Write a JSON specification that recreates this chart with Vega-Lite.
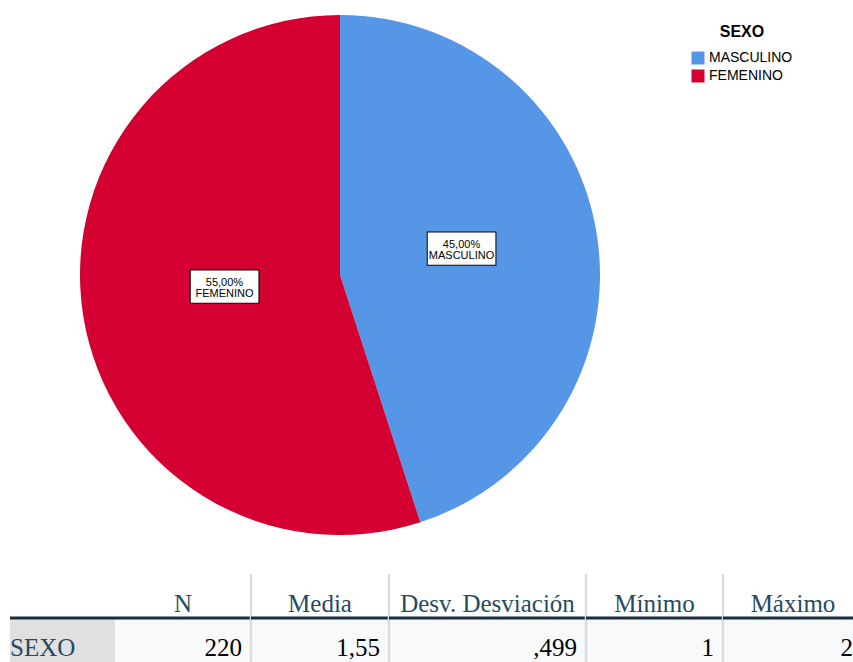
{
  "$schema": "https://vega.github.io/schema/vega-lite/v6.json",
  "padding": {"left": 8, "top": 0, "right": 0, "bottom": 0},
  "background": "white",
  "spacing": 24,
  "bounds": "flush",
  "datasets": {
    "pie": [
      {"sexo": "MASCULINO", "porcentaje": 45, "orden": 1, "etiqueta": ["45,00%", "MASCULINO"]},
      {"sexo": "FEMENINO", "porcentaje": 55, "orden": 2, "etiqueta": ["55,00%", "FEMENINO"]}
    ],
    "stats": [
      {"col": "fila", "header": "", "value": "SEXO"},
      {"col": "N", "header": "N", "value": "220"},
      {"col": "Media", "header": "Media", "value": "1,55"},
      {"col": "Desv", "header": "Desv. Desviación", "value": ",499"},
      {"col": "Min", "header": "Mínimo", "value": "1"},
      {"col": "Max", "header": "Máximo", "value": "2"}
    ]
  },
  "resolve": {"scale": {"color": "independent"}, "legend": {"color": "independent"}},
  "vconcat": [
    {
      "width": 660,
      "height": 550,
      "data": {"name": "pie"},
      "encoding": {
        "theta": {"field": "porcentaje", "type": "quantitative", "stack": true},
        "order": {"field": "orden", "type": "quantitative"}
      },
      "layer": [
        {
          "mark": {"type": "arc", "outerRadius": 260, "stroke": null},
          "encoding": {
            "color": {
              "field": "sexo",
              "type": "nominal",
              "scale": {"domain": ["MASCULINO", "FEMENINO"], "range": ["#5596e6", "#d40032"]},
              "legend": {
                "title": "SEXO",
                "orient": "right",
                "offset": -3,
                "padding": 24,
                "titleFont": "Liberation Sans",
                "titleFontSize": 16,
                "titleFontWeight": "bold",
                "titleColor": "#000000",
                "titleAnchor": "middle",
                "titlePadding": 11,
                "labelFont": "Liberation Sans",
                "labelFontSize": 14,
                "labelColor": "#000000",
                "symbolType": "square",
                "symbolSize": 169,
                "symbolStrokeWidth": 0,
                "symbolOpacity": 1,
                "labelOffset": 4,
                "rowPadding": 4
              }
            }
          }
        },
        {
          "mark": {"type": "text", "radius": 120, "dx": 3, "dy": -11, "text": "▬", "font": "DejaVu Sans", "fontSize": 90, "fill": "white", "stroke": "black", "strokeWidth": 1, "align": "center", "baseline": "middle"},
          "encoding": {"detail": {"field": "sexo"}}
        },
        {
          "mark": {"type": "text", "radius": 120, "dx": 3, "dy": -11, "font": "Liberation Sans", "fontSize": 11, "lineHeight": 11, "color": "black", "align": "center", "baseline": "middle"},
          "encoding": {"detail": {"field": "sexo"}, "text": {"field": "etiqueta"}}
        }
      ]
    },
    {
      "spacing": 0,
      "bounds": "flush",
      "hconcat": [
        {
          "width": 105, "height": 88,
          "data": {"name": "stats"},
          "transform": [{"filter": "datum.col == 'fila'"}],
          "layer": [
            {"mark": {"type": "rect", "color": "#e0e0e0"}, "encoding": {"y": {"datum": "v", "type": "nominal", "scale": {"type": "band", "domain": ["h", "v"], "paddingInner": 0, "paddingOuter": 0}, "axis": null}}},
            {"mark": {"type": "rule", "color": "#1c2e3c", "strokeWidth": 3}, "encoding": {"y": {"datum": "v", "type": "nominal", "bandPosition": 0, "axis": null}}},
            {"mark": {"type": "text", "font": "Liberation Serif", "fontSize": 25, "color": "#264a60", "align": "left", "baseline": "alphabetic", "dx": 0}, "encoding": {"text": {"field": "value"}, "x": {"value": 0}, "y": {"datum": "v", "type": "nominal", "bandPosition": 0.87, "axis": null}}}
          ]
        },
        {
          "width": 136, "height": 88,
          "data": {"name": "stats"},
          "transform": [{"filter": "datum.col == 'N'"}],
          "layer": [
            {"mark": {"type": "rect", "color": "#f8f9fb"}, "encoding": {"y": {"datum": "v", "type": "nominal", "scale": {"type": "band", "domain": ["h", "v"], "paddingInner": 0, "paddingOuter": 0}, "axis": null}}},
            {"mark": {"type": "rule", "color": "#1c2e3c", "strokeWidth": 3}, "encoding": {"y": {"datum": "v", "type": "nominal", "bandPosition": 0, "axis": null}}},
            {"mark": {"type": "text", "font": "Liberation Serif", "fontSize": 25, "color": "#264a60", "align": "center", "baseline": "alphabetic"}, "encoding": {"text": {"field": "header"}, "y": {"datum": "h", "type": "nominal", "bandPosition": 0.87, "axis": null}}},
            {"mark": {"type": "text", "font": "Liberation Serif", "fontSize": 25, "color": "#010205", "align": "right", "baseline": "alphabetic", "dx": -9}, "encoding": {"text": {"field": "value"}, "x": {"value": "width"}, "y": {"datum": "v", "type": "nominal", "bandPosition": 0.87, "axis": null}}}
          ]
        },
        {
          "width": 138, "height": 88,
          "data": {"name": "stats"},
          "transform": [{"filter": "datum.col == 'Media'"}],
          "layer": [
            {"mark": {"type": "rect", "color": "#f8f9fb"}, "encoding": {"y": {"datum": "v", "type": "nominal", "scale": {"type": "band", "domain": ["h", "v"], "paddingInner": 0, "paddingOuter": 0}, "axis": null}}},
            {"mark": {"type": "rule", "color": "#dcdcdc", "strokeWidth": 2.5}, "encoding": {"x": {"value": 0}}},
            {"mark": {"type": "rule", "color": "#1c2e3c", "strokeWidth": 3}, "encoding": {"y": {"datum": "v", "type": "nominal", "bandPosition": 0, "axis": null}}},
            {"mark": {"type": "text", "font": "Liberation Serif", "fontSize": 25, "color": "#264a60", "align": "center", "baseline": "alphabetic"}, "encoding": {"text": {"field": "header"}, "y": {"datum": "h", "type": "nominal", "bandPosition": 0.87, "axis": null}}},
            {"mark": {"type": "text", "font": "Liberation Serif", "fontSize": 25, "color": "#010205", "align": "right", "baseline": "alphabetic", "dx": -9}, "encoding": {"text": {"field": "value"}, "x": {"value": "width"}, "y": {"datum": "v", "type": "nominal", "bandPosition": 0.87, "axis": null}}}
          ]
        },
        {
          "width": 197, "height": 88,
          "data": {"name": "stats"},
          "transform": [{"filter": "datum.col == 'Desv'"}],
          "layer": [
            {"mark": {"type": "rect", "color": "#f8f9fb"}, "encoding": {"y": {"datum": "v", "type": "nominal", "scale": {"type": "band", "domain": ["h", "v"], "paddingInner": 0, "paddingOuter": 0}, "axis": null}}},
            {"mark": {"type": "rule", "color": "#dcdcdc", "strokeWidth": 2.5}, "encoding": {"x": {"value": 0}}},
            {"mark": {"type": "rule", "color": "#1c2e3c", "strokeWidth": 3}, "encoding": {"y": {"datum": "v", "type": "nominal", "bandPosition": 0, "axis": null}}},
            {"mark": {"type": "text", "font": "Liberation Serif", "fontSize": 25, "color": "#264a60", "align": "center", "baseline": "alphabetic"}, "encoding": {"text": {"field": "header"}, "y": {"datum": "h", "type": "nominal", "bandPosition": 0.87, "axis": null}}},
            {"mark": {"type": "text", "font": "Liberation Serif", "fontSize": 25, "color": "#010205", "align": "right", "baseline": "alphabetic", "dx": -9}, "encoding": {"text": {"field": "value"}, "x": {"value": "width"}, "y": {"datum": "v", "type": "nominal", "bandPosition": 0.87, "axis": null}}}
          ]
        },
        {
          "width": 137, "height": 88,
          "data": {"name": "stats"},
          "transform": [{"filter": "datum.col == 'Min'"}],
          "layer": [
            {"mark": {"type": "rect", "color": "#f8f9fb"}, "encoding": {"y": {"datum": "v", "type": "nominal", "scale": {"type": "band", "domain": ["h", "v"], "paddingInner": 0, "paddingOuter": 0}, "axis": null}}},
            {"mark": {"type": "rule", "color": "#dcdcdc", "strokeWidth": 2.5}, "encoding": {"x": {"value": 0}}},
            {"mark": {"type": "rule", "color": "#1c2e3c", "strokeWidth": 3}, "encoding": {"y": {"datum": "v", "type": "nominal", "bandPosition": 0, "axis": null}}},
            {"mark": {"type": "text", "font": "Liberation Serif", "fontSize": 25, "color": "#264a60", "align": "center", "baseline": "alphabetic"}, "encoding": {"text": {"field": "header"}, "y": {"datum": "h", "type": "nominal", "bandPosition": 0.87, "axis": null}}},
            {"mark": {"type": "text", "font": "Liberation Serif", "fontSize": 25, "color": "#010205", "align": "right", "baseline": "alphabetic", "dx": -9}, "encoding": {"text": {"field": "value"}, "x": {"value": "width"}, "y": {"datum": "v", "type": "nominal", "bandPosition": 0.87, "axis": null}}}
          ]
        },
        {
          "width": 132, "height": 88,
          "data": {"name": "stats"},
          "transform": [{"filter": "datum.col == 'Max'"}],
          "layer": [
            {"mark": {"type": "rect", "color": "#f8f9fb"}, "encoding": {"y": {"datum": "v", "type": "nominal", "scale": {"type": "band", "domain": ["h", "v"], "paddingInner": 0, "paddingOuter": 0}, "axis": null}}},
            {"mark": {"type": "rule", "color": "#dcdcdc", "strokeWidth": 2.5}, "encoding": {"x": {"value": 0}}},
            {"mark": {"type": "rule", "color": "#1c2e3c", "strokeWidth": 3}, "encoding": {"y": {"datum": "v", "type": "nominal", "bandPosition": 0, "axis": null}}},
            {"mark": {"type": "text", "font": "Liberation Serif", "fontSize": 25, "color": "#264a60", "align": "center", "baseline": "alphabetic", "dx": 4}, "encoding": {"text": {"field": "header"}, "y": {"datum": "h", "type": "nominal", "bandPosition": 0.87, "axis": null}}},
            {"mark": {"type": "text", "font": "Liberation Serif", "fontSize": 25, "color": "#010205", "align": "right", "baseline": "alphabetic", "dx": -2}, "encoding": {"text": {"field": "value"}, "x": {"value": "width"}, "y": {"datum": "v", "type": "nominal", "bandPosition": 0.87, "axis": null}}}
          ]
        }
      ]
    }
  ],
  "config": {
    "view": {"stroke": null},
    "font": "Liberation Sans"
  }
}
